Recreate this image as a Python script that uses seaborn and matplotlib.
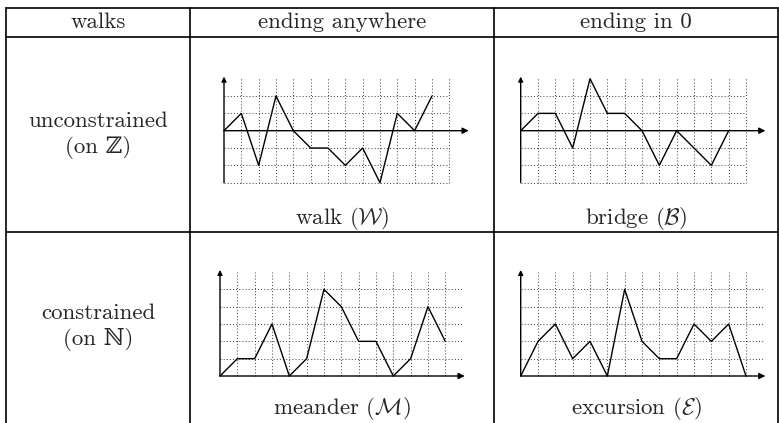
import numpy as np
import pandas as pd
import seaborn as sns
import matplotlib
matplotlib.use("Agg")
import matplotlib.pyplot as plt

# walk heights, one value per step
walk_y = [0, 1, -2, 2, 0, -1, -1, -2, -1, -3, 1, 0, 2]
bridge_y = [0, 1, 1, -1, 3, 1, 1, 0, -2, 0, -1, -2, 0]
meander_y = [0, 1, 1, 3, 0, 1, 5, 4, 2, 2, 0, 1, 4, 2]
excursion_y = [0, 2, 3, 1, 2, 0, 5, 2, 1, 1, 3, 2, 3, 0]

col_labels = ["walks", "ending anywhere", "ending in 0"]
row_labels = [("unconstrained", "(on \u2124)"), ("constrained", "(on \u2115)")]
captions = ["walk ($\\mathcal{W}$)", "bridge ($\\mathcal{B}$)",
            "meander ($\\mathcal{M}$)", "excursion ($\\mathcal{E}$)"]

sns.set_style("white")
plt.rcParams['font.family'] = ['cmr10', 'DejaVu Serif']
plt.rcParams['mathtext.fontset'] = 'cm'
plt.rcParams['axes.unicode_minus'] = False

W, H = 779, 423
fig = plt.figure(figsize=(W / 100, H / 100), dpi=100)

# table frame, drawn in pixel coords
bg = fig.add_axes([0, 0, 1, 1])
bg.set_xlim(0, W)
bg.set_ylim(H, 0)
bg.axis('off')
lw_tab = 1.2
for yy in [8, 37, 232]:
    bg.plot([6, 778], [yy, yy], color='black', lw=lw_tab)
for xx in [6, 190, 494, 778]:
    bg.plot([xx, xx], [8, 423], color='black', lw=lw_tab)

fs = 16.5
for x, lab in zip([98, 342, 636], col_labels):
    bg.text(x, 28, lab, ha='center', va='baseline', fontsize=fs)
for (l1, l2), (b1, b2) in zip(row_labels, [(127, 153), (319, 345)]):
    bg.text(98, b1, l1, ha='center', va='baseline', fontsize=fs)
    bg.text(98, b2, l2, ha='center', va='baseline', fontsize=fs)
for (x, y), cap in zip([(342, 224), (636, 224), (342, 414), (636, 414)], captions):
    bg.text(x, y, cap, ha='center', va='baseline', fontsize=fs)

u = 17.33  # pixels per grid unit


def panel(ox, oy, vals, ymin, ymax, ncols, hgrid_right):
    x0, x1 = -0.6, 14.6
    y0, y1 = ymin - 0.6, ymax + 0.6
    left = (ox + x0 * u) / W
    bottom = 1 - (oy - y0 * u) / H
    ax = fig.add_axes([left, bottom, (x1 - x0) * u / W, (y1 - y0) * u / H])
    ax.set_xlim(x0, x1)
    ax.set_ylim(y0, y1)
    ax.axis('off')
    dot = dict(color='0.3', lw=0.75, linestyle=(0, (1, 2)))
    for gx in range(1, ncols + 1):
        ax.plot([gx, gx], [ymin, ymax + 0.03], **dot)
    for gy in range(ymin, ymax):
        if gy != 0:
            ax.plot([0, hgrid_right], [gy, gy], **dot)
    # axes with arrow heads
    ax.annotate('', xy=(14.12, 0), xytext=(0, 0),
                arrowprops=dict(arrowstyle='-|>', lw=1.0, color='black',
                                mutation_scale=9, shrinkA=0, shrinkB=0))
    ax.annotate('', xy=(0, ymax + 0.12), xytext=(0, ymin),
                arrowprops=dict(arrowstyle='-|>', lw=1.0, color='black',
                                mutation_scale=7, shrinkA=0, shrinkB=0))
    df = pd.DataFrame({'step': np.arange(len(vals)), 'height': vals})
    sns.lineplot(data=df, x='step', y='height', ax=ax, color='black', lw=1.0)
    ax.axis('off')


panel(224, 130.7, walk_y, -3, 3, 13, 13)
panel(520.7, 130.7, bridge_y, -3, 3, 13, 13)
panel(220, 376, meander_y, 0, 6, 13, 14)
panel(520.7, 376, excursion_y, 0, 6, 13, 14)

fig.savefig("out.png", dpi=100, facecolor='white')
